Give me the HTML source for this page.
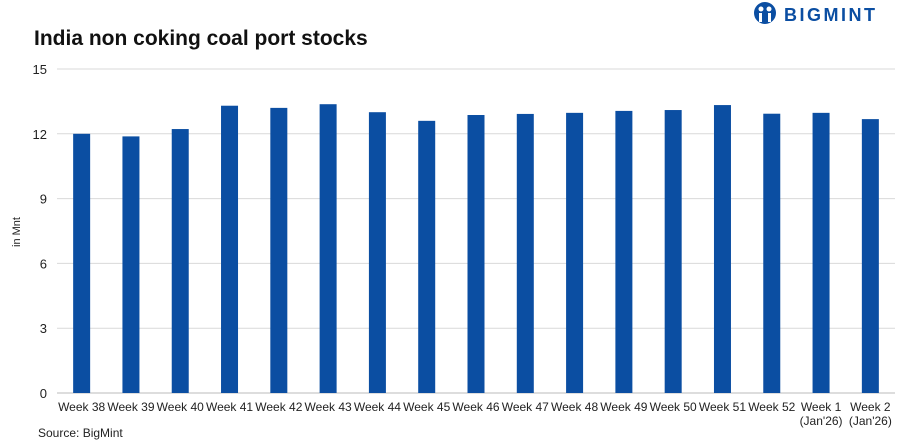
<!DOCTYPE html>
<html><head><meta charset="utf-8"><style>
body{margin:0;background:#fff;width:907px;height:444px;overflow:hidden;font-family:"Liberation Sans",sans-serif}
svg{display:block}
</style></head><body>
<svg width="907" height="444">
<text x="34" y="45" font-size="21" font-weight="bold" fill="#111">India non coking coal port stocks</text>
<g>
<circle cx="765" cy="13" r="11" fill="#0b4ea2"/>
<circle cx="761" cy="9" r="2.5" fill="#fff"/><circle cx="769" cy="9" r="2.5" fill="#fff"/>
<rect x="759" y="13" width="3" height="9" fill="#fff"/><rect x="768" y="13" width="3" height="9" fill="#fff"/>
<text x="784" y="21" font-size="18" font-weight="bold" fill="#0b4ea2" letter-spacing="2.5">BIGMINT</text>
</g>
<text transform="translate(20,232) rotate(-90)" text-anchor="middle" font-size="11" fill="#222">in Mnt</text>
<g id="grid"></g><g id="bars"></g><g id="xl"></g>
<text x="38" y="437" font-size="12" fill="#222">Source: BigMint</text>
</svg>
<script>
const categories=["Week 38","Week 39","Week 40","Week 41","Week 42","Week 43","Week 44","Week 45","Week 46","Week 47","Week 48","Week 49","Week 50","Week 51","Week 52","Week 1|(Jan'26)","Week 2|(Jan'26)"];
const values=[12.0,11.88,12.22,13.3,13.2,13.37,13.0,12.6,12.87,12.92,12.97,13.06,13.1,13.33,12.93,12.97,12.68];
const ticks=[0,3,6,9,12,15];
const NS="http://www.w3.org/2000/svg";
const y0=393,y15=69,xl=57,xr=895;
const ys=v=>y0-(y0-y15)*v/15;
const step=(xr-xl)/categories.length;
const xs=i=>xl+step*(i+0.5);
const g=document.getElementById('grid'),b=document.getElementById('bars'),xlb=document.getElementById('xl');
function mk(t,a,p){const e=document.createElementNS(NS,t);for(const k in a)e.setAttribute(k,a[k]);p.appendChild(e);return e;}
ticks.forEach(t=>{
 const l=mk('line',{x1:xl,x2:xr,y1:ys(t),y2:ys(t),stroke:t===0?'#bbb':'#d9d9d9','stroke-width':1},g);
 
 
 const tx=mk('text',{x:47,y:ys(t)+5,'text-anchor':'end','font-size':13,fill:'#222'},g);
 tx.textContent=t;
 
 
});
categories.forEach((c,i)=>{
 const r=mk('rect',{x:xs(i)-8.5,y:ys(values[i]),width:17,height:y0-ys(values[i]),fill:'#0b4ea2'},b);
 
 
 const parts=c.split('|');
 parts.forEach((p,j)=>{
  const t=mk('text',{x:xs(i),y:411+j*14,'text-anchor':'middle','font-size':12,fill:'#222'},xlb);
  t.textContent=p;
  
  
 });
});
</script>
</body></html>
